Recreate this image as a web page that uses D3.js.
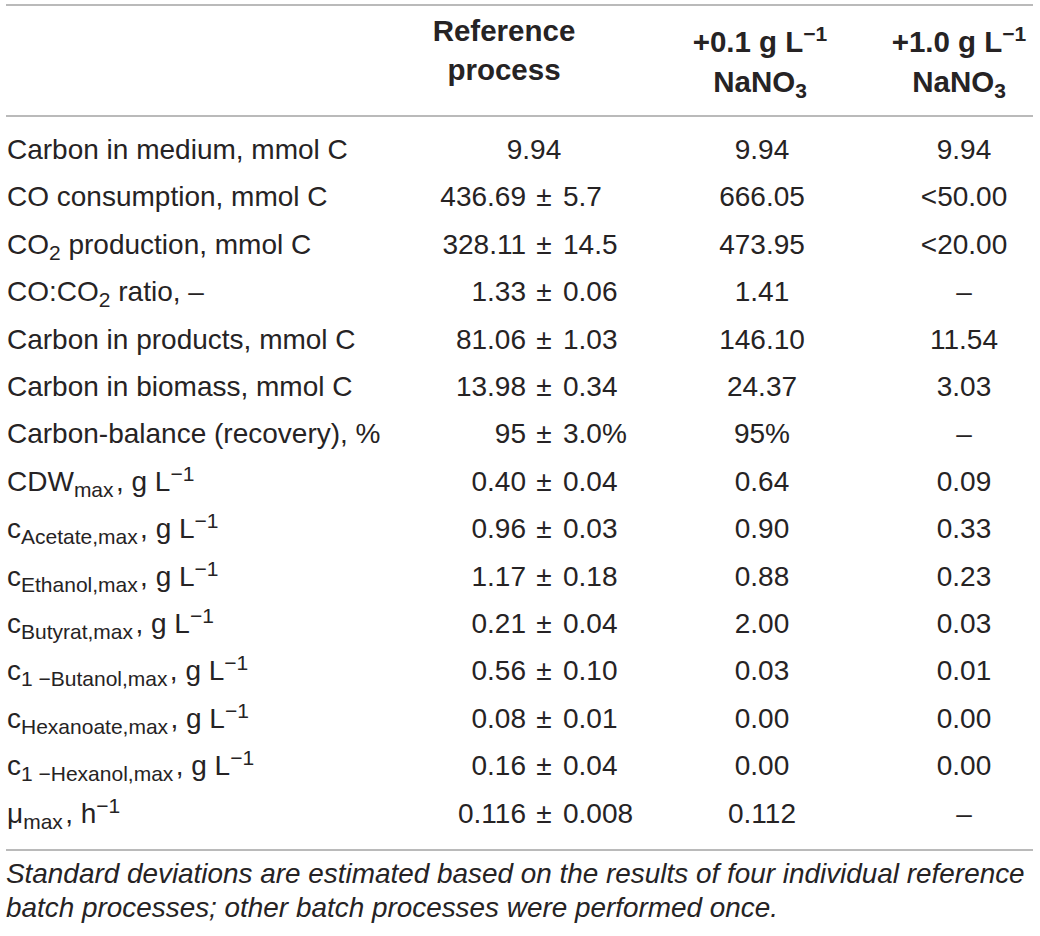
<!DOCTYPE html>
<html><head><meta charset="utf-8">
<script src="https://cdn.jsdelivr.net/npm/d3@7"></script>
<style>body{margin:0;background:#fff}svg{display:block}</style>
</head><body>
<script>
// ---- data ----
// label pieces: [text, kind] kind: n=normal, b=subscript, p=superscript
const rowLabels = [
  [["Carbon in medium, mmol C","n"]],
  [["CO consumption, mmol C","n"]],
  [["CO","n"],["2","b"],[" production, mmol C","n"]],
  [["CO:CO","n"],["2","b"],[" ratio, –","n"]],
  [["Carbon in products, mmol C","n"]],
  [["Carbon in biomass, mmol C","n"]],
  [["Carbon-balance (recovery), %","n"]],
  [["CDW","n"],["max","b"],["\u200A, g L","n"],["−1","p"]],
  [["c","n"],["Acetate,max","b"],["\u200A, g L","n"],["−1","p"]],
  [["c","n"],["Ethanol,max","b"],["\u200A, g L","n"],["−1","p"]],
  [["c","n"],["Butyrat,max","b"],["\u200A, g L","n"],["−1","p"]],
  [["c","n"],["1 −Butanol,max","b"],["\u200A, g L","n"],["−1","p"]],
  [["c","n"],["Hexanoate,max","b"],["\u200A, g L","n"],["−1","p"]],
  [["c","n"],["1 −Hexanol,max","b"],["\u200A, g L","n"],["−1","p"]],
  [["μ","n"],["max","b"],["\u200A, h","n"],["−1","p"]]
];
const refMean = ["9.94","436.69","328.11","1.33","81.06","13.98","95","0.40","0.96","1.17","0.21","0.56","0.08","0.16","0.116"];
const refSD   = [null,"5.7","14.5","0.06","1.03","0.34","3.0%","0.04","0.03","0.18","0.04","0.10","0.01","0.04","0.008"];
const nitrate01 = ["9.94","666.05","473.95","1.41","146.10","24.37","95%","0.64","0.90","0.88","2.00","0.03","0.00","0.00","0.112"];
const nitrate10 = ["9.94","<50.00","<20.00","–","11.54","3.03","–","0.09","0.33","0.23","0.03","0.01","0.00","0.00","–"];
const headers = [
  [[["Reference","n"]],[["process","n"]]],
  [[["+0.1 g L","n"],["−1","p"]],[["NaNO","n"],["3","b"]]],
  [[["+1.0 g L","n"],["−1","p"]],[["NaNO","n"],["3","b"]]]
];
const footnote = [
  "Standard deviations are estimated based on the results of four individual reference",
  "batch processes; other batch processes were performed once."
];

// ---- layout ----
const W = 1040, H = 936;
const ink = "#262324", rule = "#a3a3a3";
const font = "'Liberation Sans', Arial, Helvetica, sans-serif";
const fs = 28, subFs = 21, headFs = 29.5;

const svg = d3.select("body").append("svg").attr("width", W).attr("height", H);
svg.append("rect").attr("width", W).attr("height", H).attr("fill", "#fff");

const yRow = d3.scaleLinear().domain([0, rowLabels.length - 1]).range([159, 822.6]);
const colX = d3.scaleOrdinal().domain([0,1,2]).range([534, 762, 964]);
const headX = d3.scaleOrdinal().domain([0,1,2]).range([504, 760, 959]);
const pmX = 544;

// rules
[5, 116, 850].forEach(y => svg.append("line")
  .attr("x1", 6).attr("x2", 1033).attr("y1", y).attr("y2", y)
  .attr("stroke", rule).attr("stroke-width", 1.6));

function addPieces(t, pieces, size, smallSize, raise) {
  let shift = 0;
  pieces.forEach(([txt, kind]) => {
    const ts = t.append("tspan").text(txt);
    let target = 0, s = size;
    if (kind === "b") { target = 6; s = smallSize; }
    if (kind === "p") { target = -raise; s = smallSize; }
    ts.attr("font-size", s).attr("dy", target - shift);
    shift = target;
  });
}

// headers
const headBase = [[41, 80], [52, 92], [52, 92]];
headers.forEach((lines, c) => {
  lines.forEach((pieces, li) => {
    const t = svg.append("text").attr("x", headX(c)).attr("y", headBase[c][li])
      .attr("text-anchor", "middle").attr("font-family", font)
      .attr("font-weight", "bold").attr("fill", ink);
    addPieces(t, pieces, headFs, 21, 11);
  });
});

// row labels
rowLabels.forEach((pieces, i) => {
  const t = svg.append("text").attr("x", 7).attr("y", yRow(i))
    .attr("font-family", font).attr("fill", ink);
  addPieces(t, pieces, fs, subFs, 10);
});

const cell = (x, y, txt, anchor) => svg.append("text").attr("x", x).attr("y", y)
  .attr("text-anchor", anchor).attr("font-family", font).attr("font-size", fs)
  .attr("fill", ink).text(txt);

// reference column
refMean.forEach((m, i) => {
  const y = yRow(i);
  if (refSD[i] == null) {
    cell(colX(0), y, m, "middle");
  } else {
    cell(pmX - 18, y, m, "end");
    cell(pmX, y, "±", "middle");
    cell(pmX + 19, y, refSD[i], "start");
  }
});
nitrate01.forEach((v, i) => cell(colX(1), yRow(i), v, "middle"));
nitrate10.forEach((v, i) => cell(colX(2), yRow(i), v, "middle"));

// footnote
footnote.forEach((line, i) => svg.append("text").attr("x", 6).attr("y", 883 + i * 34)
  .attr("font-family", font).attr("font-style", "italic").attr("font-size", 27.9)
  .attr("fill", ink).text(line));
</script>
</body></html>
